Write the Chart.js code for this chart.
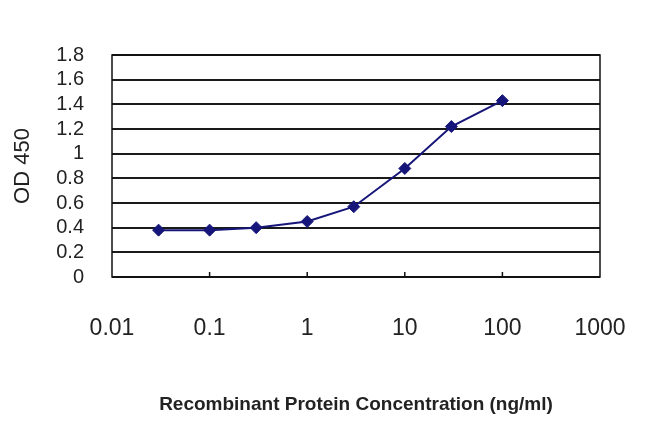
<!DOCTYPE html>
<html>
<head>
<meta charset="utf-8">
<script src="https://cdn.jsdelivr.net/npm/chart.js@4"></script>
<style>
  html, body { margin: 0; padding: 0; background: #fff; }
  #wrap { width: 650px; height: 434px; }
</style>
</head>
<body>
<div id="wrap"><canvas id="odChart" width="650" height="434"></canvas></div>
<script>
// concentration (ng/ml) and OD 450 readings
const concentrations = [0.03, 0.1, 0.3, 1, 3, 10, 30, 100];
const odValues = [0.38, 0.38, 0.4, 0.45, 0.57, 0.88, 1.22, 1.43];
const xTickValues = [0.01, 0.1, 1, 10, 100, 1000];
const yTickValues = [0, 0.2, 0.4, 0.6, 0.8, 1, 1.2, 1.4, 1.6, 1.8];

const navy = "#16167a";
const ctx = document.getElementById("odChart");

// frame around the plot and the little inside ticks on the x axis
const framePlugin = {
  id: "frame",
  afterDraw(chart) {
    const { ctx, chartArea: a, scales } = chart;
    ctx.save();
    ctx.strokeStyle = "#111";
    ctx.lineWidth = 1.5;
    ctx.strokeRect(a.left, a.top, a.right - a.left, a.bottom - a.top);
    xTickValues.slice(1, -1).forEach((v) => {
      const x = scales.x.getPixelForValue(v);
      ctx.beginPath();
      ctx.moveTo(x, a.bottom);
      ctx.lineTo(x, a.bottom - 5);
      ctx.stroke();
    });
    ctx.restore();
  },
};

const points = concentrations.map((c, i) => ({ x: c, y: odValues[i] }));

new Chart(ctx, {
  type: "line",
  data: {
    datasets: [
      {
        data: points,
        borderColor: navy,
        backgroundColor: navy,
        borderWidth: 2,
        pointStyle: "rectRot",
        pointRadius: 6,
        pointBorderWidth: 1,
        tension: 0,
      },
    ],
  },
  options: {
    responsive: false,
    animation: false,
    devicePixelRatio: 1,
    layout: { padding: { left: 0, right: 50, top: 55, bottom: 18 } },
    plugins: { legend: false, tooltip: { enabled: false } },
    scales: {
      x: {
        type: "logarithmic",
        min: 0.01,
        max: 1000,
        afterBuildTicks: (scale) => {
          scale.ticks = xTickValues.map((v) => ({ value: v }));
        },
        afterFit: (scale) => {
          scale.height = 434 - 277 - 18;
          scale.paddingLeft = 0;
          scale.paddingRight = 0;
        },
        grid: { display: false },
        border: { display: false },
        ticks: {
          color: "#222",
          padding: 30,
          maxRotation: 0,
          autoSkip: false,
          font: { family: "Arial, 'Liberation Sans'", size: 23 },
          callback: (v) => String(v),
        },
        title: {
          display: true,
          text: "Recombinant Protein Concentration (ng/ml)",
          color: "#222",
          font: { family: "Arial, 'Liberation Sans'", size: 19, weight: "bold" },
          padding: { top: 0, bottom: 0 },
        },
      },
      y: {
        min: 0,
        max: 1.8,
        afterBuildTicks: (scale) => {
          scale.ticks = yTickValues.map((v) => ({ value: v }));
        },
        afterFit: (scale) => {
          scale.width = 112;
        },
        grid: { color: "#1a1a1a", lineWidth: 2, drawTicks: false },
        border: { display: false },
        ticks: {
          color: "#222",
          padding: 28,
          autoSkip: false,
          font: { family: "Arial, 'Liberation Sans'", size: 20 },
          callback: (v) => String(v),
        },
        title: {
          display: true,
          text: "OD 450",
          color: "#222",
          font: { family: "Arial, 'Liberation Sans'", size: 22 },
          padding: { top: 10, bottom: 0 },
        },
      },
    },
  },
  plugins: [framePlugin],
});
</script>
</body>
</html>
